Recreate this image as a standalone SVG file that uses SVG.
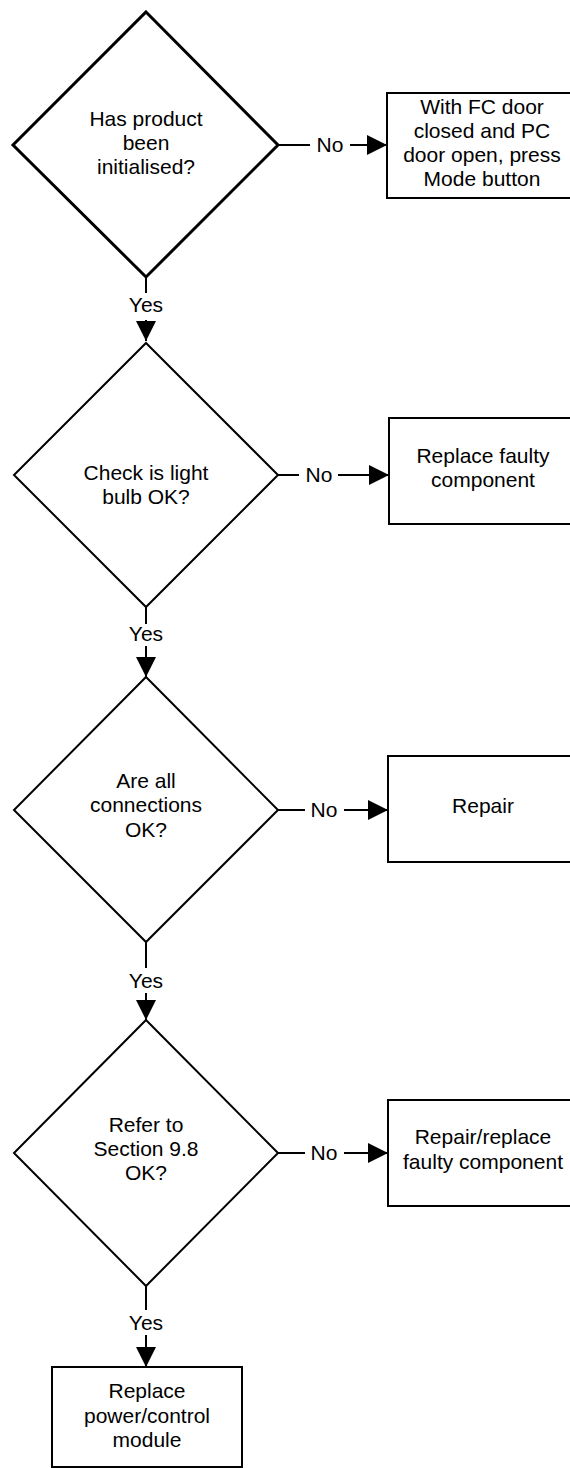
<svg xmlns="http://www.w3.org/2000/svg" width="570" height="1468" viewBox="0 0 570 1468">
<style>
  .shape { fill: #fff; stroke: #000; stroke-width: 2; }
  .thick { stroke-width: 3; }
  .conn { fill: none; stroke: #000; stroke-width: 2; }
  text { font-family: "Liberation Sans", Arial, sans-serif; font-size: 21px; fill: #000; text-anchor: middle; }
</style>
<defs>
  <marker id="arr" viewBox="0 0 20 20" refX="20" refY="10" markerWidth="20" markerHeight="20" markerUnits="userSpaceOnUse" orient="auto">
    <path d="M0,0 L20,10 L0,20 Z" fill="#000"/>
  </marker>
</defs>
<rect width="570" height="1468" fill="#fff"/>

<g id="connectors">
  <!-- Yes arrows -->
  <line class="conn" x1="146" y1="277" x2="146" y2="293"/>
  <line class="conn" x1="146" y1="320" x2="146" y2="341" marker-end="url(#arr)"/>
  <text x="146" y="312">Yes</text>

  <line class="conn" x1="146" y1="607" x2="146" y2="624"/>
  <line class="conn" x1="146" y1="646" x2="146" y2="677" marker-end="url(#arr)"/>
  <text x="146" y="641">Yes</text>

  <line class="conn" x1="146" y1="942" x2="146" y2="968"/>
  <line class="conn" x1="146" y1="993" x2="146" y2="1020" marker-end="url(#arr)"/>
  <text x="146" y="988">Yes</text>

  <line class="conn" x1="146" y1="1286" x2="146" y2="1310"/>
  <line class="conn" x1="146" y1="1335" x2="146" y2="1367" marker-end="url(#arr)"/>
  <text x="146" y="1330">Yes</text>

  <!-- No arrows -->
  <line class="conn" x1="278" y1="145" x2="310" y2="145"/>
  <line class="conn" x1="350" y1="145" x2="387" y2="145" marker-end="url(#arr)"/>
  <text x="330" y="152">No</text>

  <line class="conn" x1="278" y1="475" x2="299" y2="475"/>
  <line class="conn" x1="338" y1="475" x2="389" y2="475" marker-end="url(#arr)"/>
  <text x="319" y="482">No</text>

  <line class="conn" x1="278" y1="810" x2="305" y2="810"/>
  <line class="conn" x1="344" y1="810" x2="388" y2="810" marker-end="url(#arr)"/>
  <text x="324" y="817">No</text>

  <line class="conn" x1="278" y1="1153" x2="305" y2="1153"/>
  <line class="conn" x1="344" y1="1153" x2="388" y2="1153" marker-end="url(#arr)"/>
  <text x="324" y="1160">No</text>
</g>

<g id="d1">
  <polygon class="shape thick" points="146,12 278,145 146,277 13,145"/>
  <text x="146" y="126">Has product</text>
  <text x="146" y="150">been</text>
  <text x="146" y="174">initialised?</text>
</g>
<g id="b1">
  <rect class="shape" x="387" y="93" width="190" height="105"/>
  <text x="482" y="114">With FC door</text>
  <text x="482" y="138">closed and PC</text>
  <text x="482" y="162">door open, press</text>
  <text x="482" y="186">Mode button</text>
</g>

<g id="d2">
  <polygon class="shape" points="146,343 278,475 146,607 14,475"/>
  <text x="146" y="480">Check is light</text>
  <text x="146" y="504">bulb OK?</text>
</g>
<g id="b2">
  <rect class="shape" x="389" y="418" width="190" height="106"/>
  <text x="483" y="463">Replace faulty</text>
  <text x="483" y="487">component</text>
</g>

<g id="d3">
  <polygon class="shape" points="146,677 278,810 146,942 14,810"/>
  <text x="146" y="788">Are all</text>
  <text x="146" y="812">connections</text>
  <text x="146" y="837">OK?</text>
</g>
<g id="b3">
  <rect class="shape" x="388" y="756" width="190" height="106"/>
  <text x="483" y="813">Repair</text>
</g>

<g id="d4">
  <polygon class="shape" points="146,1020 278,1153 146,1286 14,1153"/>
  <text x="146" y="1132">Refer to</text>
  <text x="146" y="1156">Section 9.8</text>
  <text x="146" y="1180">OK?</text>
</g>
<g id="b4">
  <rect class="shape" x="388" y="1100" width="190" height="106"/>
  <text x="483" y="1144">Repair/replace</text>
  <text x="483" y="1169">faulty component</text>
</g>

<g id="b5">
  <rect class="shape" x="52" y="1367" width="190" height="100"/>
  <text x="147" y="1398">Replace</text>
  <text x="147" y="1423">power/control</text>
  <text x="147" y="1447">module</text>
</g>
</svg>
